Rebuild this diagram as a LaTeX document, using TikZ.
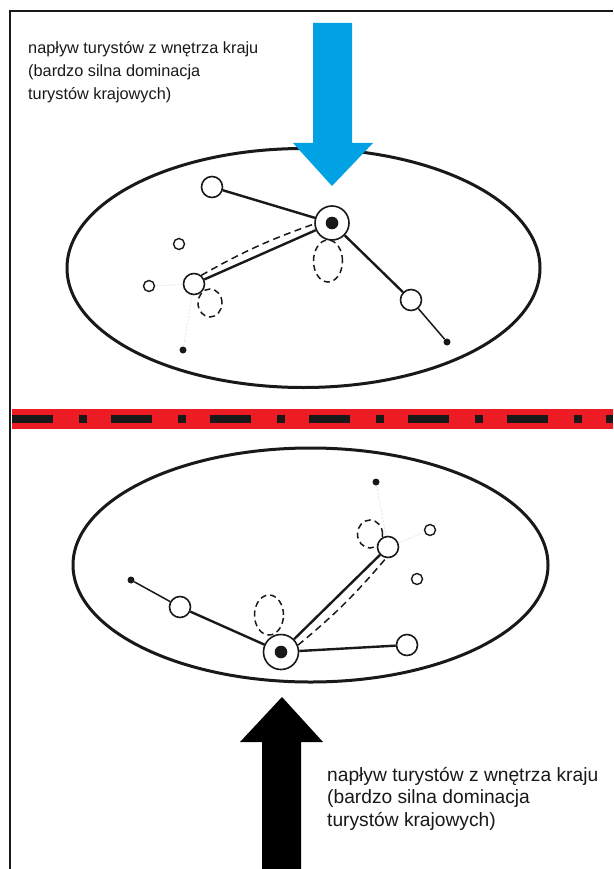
\documentclass[tikz,border=0pt]{standalone}
\usepackage{fontspec}
\setmainfont{Liberation Sans}
\usetikzlibrary{shapes.geometric}
\definecolor{arrowblue}{RGB}{0,162,228}
\definecolor{bandred}{RGB}{237,28,36}
\definecolor{ink}{RGB}{25,25,25}
\begin{document}
\begin{tikzpicture}[x=1pt,y=-1pt,
  bigoval/.style={draw=ink, ellipse, line width=3pt, inner sep=0pt},
  opencirc/.style={circle, draw=ink, fill=white, line width=1.6pt, minimum size=21pt, inner sep=0pt},
  smallcirc/.style={circle, draw=ink, fill=white, line width=1.4pt, minimum size=11pt, inner sep=0pt},
  dotnode/.style={circle, fill=ink, minimum size=7pt, inner sep=0pt},
  hub/.style={circle, draw=ink, fill=white, line width=1.6pt, minimum size=34pt, inner sep=0pt,
     path picture={\fill[ink] (path picture bounding box.center) circle[radius=6.3pt];}},
  thickedge/.style={draw=ink, line width=2.4pt},
  thinedge/.style={draw=ink, line width=1.5pt},
  dashedge/.style={draw=ink, line width=1.5pt, dash pattern=on 7pt off 4.5pt},
  loopstyle/.style={draw=ink, line width=1.5pt, dash pattern=on 6pt off 4pt},
  faint/.style={draw=black!10, line width=0.8pt, dash pattern=on 2pt off 1.5pt},
  caption/.style={align=left, anchor=north west, inner sep=0pt, text=ink},
]
\useasboundingbox (0,0) rectangle (613,869);
\fill[white] (0,0) rectangle (613,869);

% frame
\draw[ink, line width=2.6pt] (10,869) -- (10,11) -- (613,11);

% ===== top panel =====
\node[caption, font=\fontsize{16.3}{23}\selectfont] (capA) at (28,41)
  {napływ turystów z wnętrza kraju\\(bardzo silna dominacja\\turystów krajowych)};

\node[bigoval, minimum width=473pt, minimum height=239pt] (ovalA) at (303.5,268) {};

% dashed loops (behind nodes)
\draw[loopstyle] (328,261) ellipse [x radius=14.5pt, y radius=21pt];
\draw[loopstyle] (210,303) ellipse [x radius=12pt, y radius=14pt];

\node[hub] (hA) at (332,223) {};
\node[opencirc] (tlA) at (212,187) {};
\node[opencirc] (lA) at (194,284) {};
\node[opencirc] (rA) at (411,300) {};
\node[smallcirc] (s1A) at (179,244) {};
\node[smallcirc] (s2A) at (149,286) {};
\node[dotnode] (d1A) at (183,350) {};
\node[dotnode] (d2A) at (447,342) {};

\draw[thickedge] (tlA) -- (hA);
\draw[thickedge] (lA) -- (hA);
\draw[thickedge] (hA) -- (rA);
\draw[thinedge] (rA) -- (d2A);
\draw[dashedge] (lA.50) to[bend left=5] (hA.183);
\draw[faint] (lA) -- (s2A);
\draw[faint] (lA) -- (d1A);

% blue arrow
\fill[arrowblue] (313,23) -- (352,23) -- (352,143) -- (373,143) -- (332,186)
  -- (293,143) -- (313,143) -- cycle;

% ===== red border band =====
\fill[bandred] (12,409) rectangle (613,429);
\draw[ink, line width=8pt, dash pattern=on 41pt off 26pt on 8pt off 24pt] (12,419) -- (613,419);

% ===== bottom panel =====
\node[bigoval, minimum width=475pt, minimum height=234pt] (ovalB) at (310.5,565) {};

\draw[loopstyle] (269,615) ellipse [x radius=14.5pt, y radius=20pt];
\draw[loopstyle] (370,534) ellipse [x radius=12.5pt, y radius=14pt];

\node[hub, minimum size=35pt] (hB) at (281,652) {};
\node[opencirc] (lB) at (180,607) {};
\node[opencirc] (urB) at (388,547) {};
\node[opencirc] (rB) at (407,645) {};
\node[smallcirc] (s1B) at (430,530) {};
\node[smallcirc] (s2B) at (417,579) {};
\node[dotnode] (d1B) at (131,580) {};
\node[dotnode] (d2B) at (376,482) {};

\draw[thinedge] (d1B) -- (lB);
\draw[thickedge] (lB) -- (hB);
\draw[thickedge] (hB) -- (urB);
\draw[thickedge] (hB) -- (rB);
\draw[dashedge] (hB.22) to[bend right=5] (urB.260);
\draw[faint] (urB) -- (d2B);
\draw[faint] (urB) -- (s1B);

% black arrow
\fill[black] (262,869) -- (301,869) -- (301,742) -- (323,742) -- (282,697)
  -- (240,742) -- (262,742) -- cycle;

\node[caption, font=\fontsize{19.2}{22.5}\selectfont] (capB) at (327,767)
  {napływ turystów z wnętrza kraju\\(bardzo silna dominacja\\turystów krajowych)};
\end{tikzpicture}
\end{document}
